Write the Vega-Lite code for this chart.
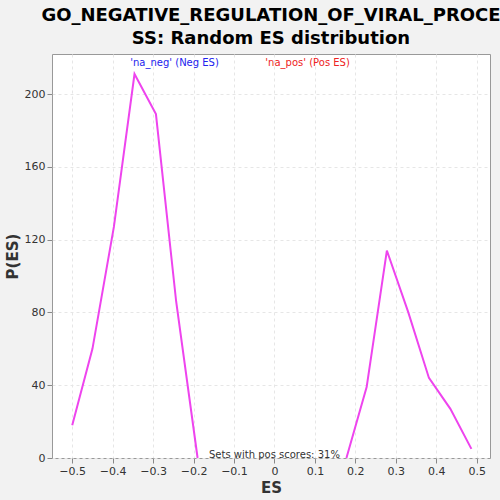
{
  "$schema": "https://vega.github.io/schema/vega-lite/v6.json",
  "width": 500,
  "height": 500,
  "autosize": {"type": "fit", "contains": "padding"},
  "background": "#f2f2f2",
  "padding": {"left": 5, "right": 10, "top": 5, "bottom": 5},
  "title": {
    "text": ["GO_NEGATIVE_REGULATION_OF_VIRAL_PROCE", "SS: Random ES distribution"],
    "fontSize": 18,
    "fontWeight": "bold",
    "font": "DejaVu Sans",
    "color": "#000000",
    "lineHeight": 23,
    "offset": 6
  },
  "config": {
    "view": {"fill": "white", "stroke": "#999999"},
    "axis": {
      "labelFont": "DejaVu Sans",
      "titleFont": "DejaVu Sans",
      "labelFontSize": 11,
      "titleFontSize": 15,
      "titleFontWeight": "bold",
      "labelColor": "#333333",
      "titleColor": "#333333",
      "gridColor": "#e6e6e6",
      "gridDash": [3, 3],
      "domain": false,
      "tickColor": "#888888",
      "labelOverlap": false
    }
  },
  "layer": [
    {
      "data": {
        "values": [
          {"es": -0.5, "p": 18, "s": "a"},
          {"es": -0.45, "p": 60, "s": "a"},
          {"es": -0.397, "p": 127, "s": "a"},
          {"es": -0.346, "p": 211, "s": "a"},
          {"es": -0.293, "p": 189, "s": "a"},
          {"es": -0.243, "p": 86, "s": "a"},
          {"es": -0.19, "p": 0, "s": "a"},
          {"es": 0.178, "p": 0, "s": "b"},
          {"es": 0.228, "p": 39, "s": "b"},
          {"es": 0.278, "p": 114, "s": "b"},
          {"es": 0.331, "p": 80, "s": "b"},
          {"es": 0.382, "p": 44, "s": "b"},
          {"es": 0.435, "p": 27, "s": "b"},
          {"es": 0.487, "p": 5, "s": "b"}
        ]
      },
      "mark": {"type": "line", "color": "#ee44ee", "strokeWidth": 2},
      "encoding": {
        "x": {
          "field": "es",
          "type": "quantitative",
          "title": "ES",
          "scale": {"domain": [-0.55, 0.533], "nice": false, "zero": false},
          "axis": {"values": [-0.5, -0.4, -0.3, -0.2, -0.1, 0, 0.1, 0.2, 0.3, 0.4, 0.5], "format": ".1~f"}
        },
        "y": {
          "field": "p",
          "type": "quantitative",
          "title": "P(ES)",
          "scale": {"domain": [0, 222], "nice": false},
          "axis": {"values": [0, 20, 40, 60, 80, 100, 120, 140, 160, 180, 200, 220]}
        },
        "detail": {"field": "s"}
      }
    },
    {
      "data": {
        "values": [
          {"es": -0.247, "p": 217, "label": "'na_neg' (Neg ES)", "c": "neg"},
          {"es": 0.082, "p": 217, "label": "'na_pos' (Pos ES)", "c": "pos"},
          {"es": 0.0, "p": 1.5, "label": "Sets with pos scores: 31%", "c": "note"}
        ]
      },
      "mark": {"type": "text", "fontSize": 10, "font": "DejaVu Sans", "baseline": "middle"},
      "encoding": {
        "x": {"field": "es", "type": "quantitative"},
        "y": {"field": "p", "type": "quantitative"},
        "text": {"field": "label"},
        "color": {
          "field": "c",
          "type": "nominal",
          "scale": {"domain": ["neg", "pos", "note"], "range": ["#2222ee", "#ee2222", "#333333"]},
          "legend": null
        }
      }
    }
  ]
}
